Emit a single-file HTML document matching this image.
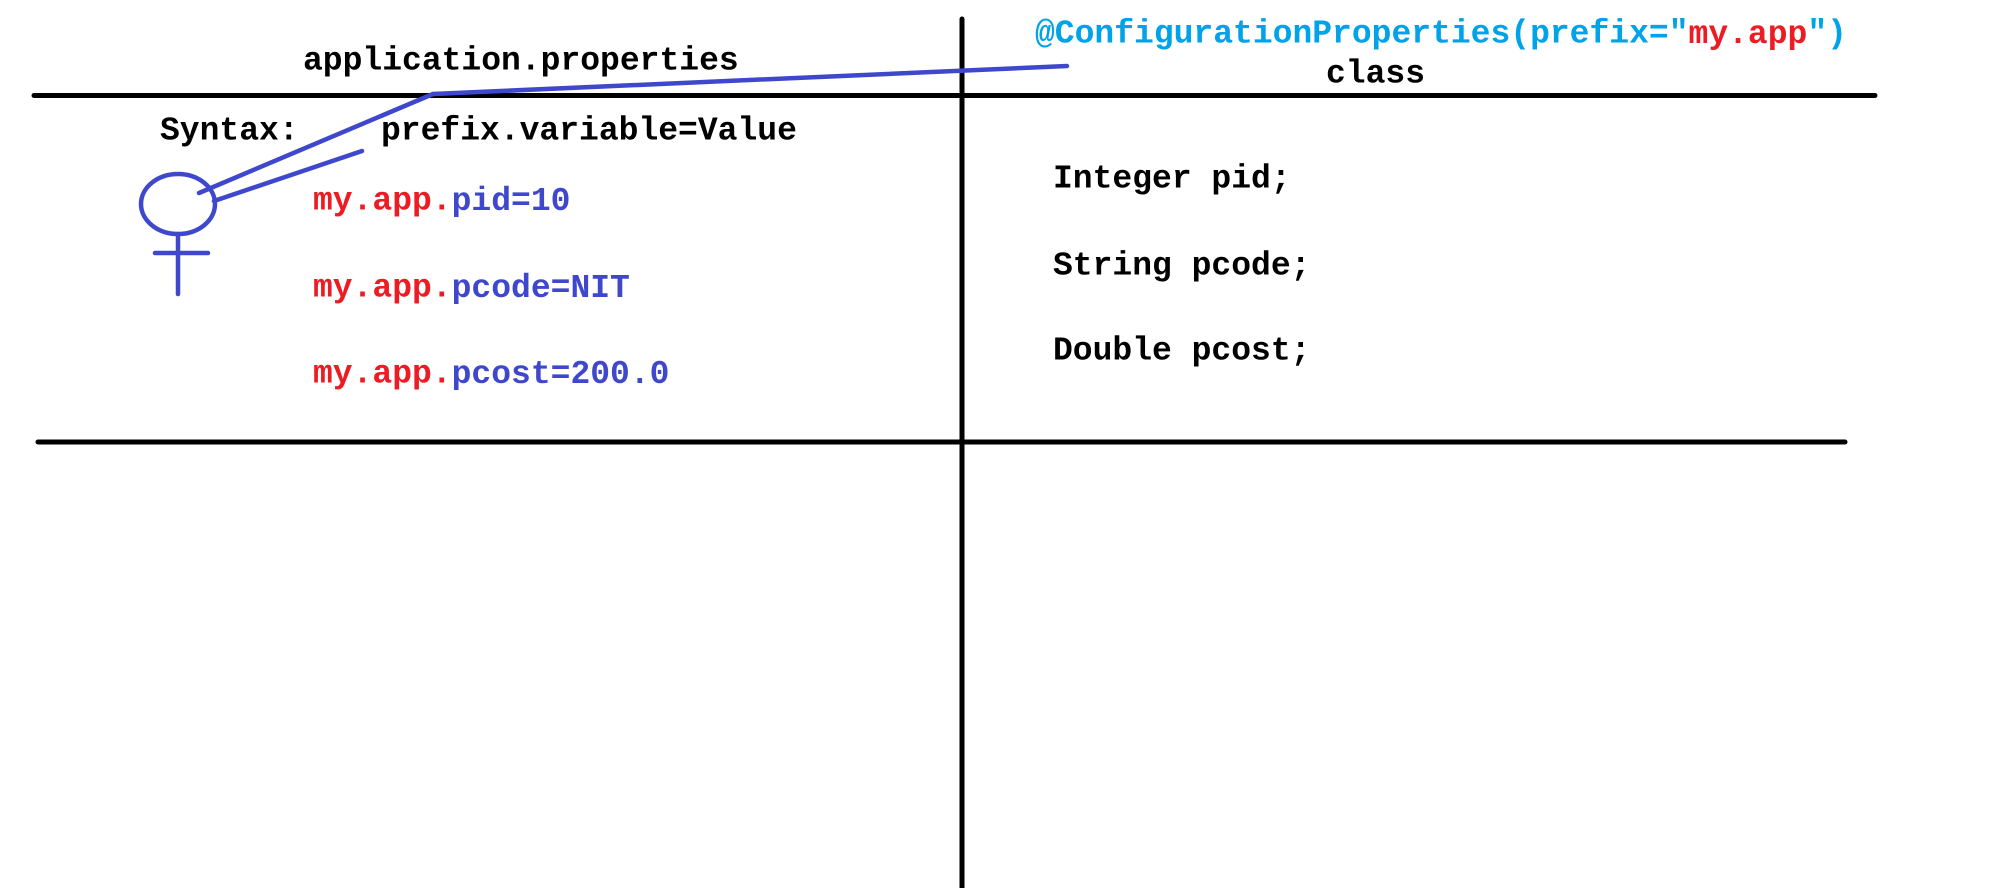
<!DOCTYPE html>
<html><head><style>
html,body{margin:0;padding:0;background:#fff;}
svg{display:block;}
text{font-family:"Liberation Mono",monospace;font-weight:bold;font-size:33px;dominant-baseline:central;}
</style></head><body>
<svg width="1996" height="888" viewBox="0 0 1996 888" xmlns="http://www.w3.org/2000/svg">
<g stroke="#000" stroke-width="5" stroke-linecap="round">
<line x1="34" y1="95.5" x2="1875" y2="95.5"/>
<line x1="38" y1="442" x2="1845" y2="442"/>
<line x1="962" y1="19" x2="962" y2="888"/>
</g>
<g stroke="#3f48cc" stroke-width="4.5" fill="none" stroke-linecap="round">
<line x1="433" y1="94" x2="1067" y2="66"/>
<line x1="433" y1="94" x2="199" y2="193"/>
<line x1="362" y1="151" x2="214" y2="201"/>
<ellipse cx="178" cy="204" rx="37" ry="30"/>
<line x1="178" y1="234" x2="178" y2="294"/>
<line x1="155" y1="253" x2="208" y2="253"/>
</g>
<text x="303" y="61" fill="#000">application.properties</text>
<text x="1035" y="34" fill="#00a2e8">@ConfigurationProperties(prefix="<tspan fill="#ed1c24">my.app</tspan>")</text>
<text x="1326" y="74" fill="#000">class</text>
<text x="160" y="131" fill="#000">Syntax:</text>
<text x="381" y="131" fill="#000">prefix.variable=Value</text>
<text x="313" y="201" fill="#ed1c24">my.app.<tspan fill="#3f48cc">pid=10</tspan></text>
<text x="313" y="288" fill="#ed1c24">my.app.<tspan fill="#3f48cc">pcode=NIT</tspan></text>
<text x="313" y="374" fill="#ed1c24">my.app.<tspan fill="#3f48cc">pcost=200.0</tspan></text>
<text x="1053" y="179" fill="#000">Integer pid;</text>
<text x="1053" y="266" fill="#000">String pcode;</text>
<text x="1053" y="351" fill="#000">Double pcost;</text>
</svg>
</body></html>
